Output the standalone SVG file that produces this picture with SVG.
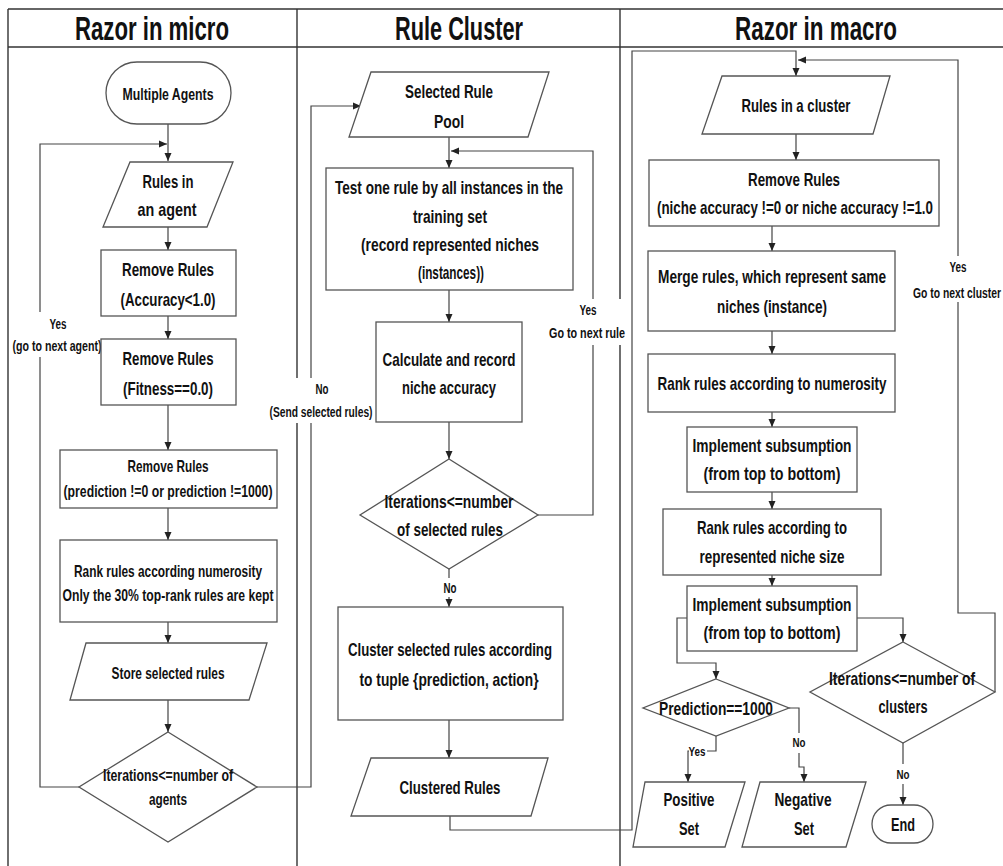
<svg xmlns="http://www.w3.org/2000/svg" width="1003" height="866" viewBox="0 0 1003 866">
  <style>
    .frame { fill: none; stroke: #333; stroke-width: 1.4; }
    .n { fill: #fff; stroke: #555; stroke-width: 1.3; }
    .c { fill: none; stroke: #444; stroke-width: 1.2; }
    .bg { fill: #fff; stroke: none; }
    text { font-family: "Liberation Sans Narrow", "Liberation Sans", Arial, sans-serif; font-weight: bold; fill: #111; text-anchor: middle; }
    .h { font-size: 33px; }
    .t { font-size: 19px; }
    .s { font-size: 16.5px; }
    .l { font-size: 14px; }
    .xs { font-size: 13px; }
  </style>
  <defs>
    <marker id="arrow" markerUnits="userSpaceOnUse" markerWidth="8" markerHeight="8" refX="8" refY="4" orient="auto">
      <path d="M0,0.5 L8,4 L0,7.5 z" fill="#222"/>
    </marker>
  </defs>

  <rect width="1003" height="866" fill="#fff"/>

  <!-- swimlane frame -->
  <g id="lanes">
    <line class="frame" x1="8" y1="9" x2="1003" y2="9"/>
    <line class="frame" x1="8" y1="47" x2="1003" y2="47"/>
    <line class="frame" x1="8" y1="9" x2="8" y2="866"/>
    <line class="frame" x1="297" y1="9" x2="297" y2="866"/>
    <line class="frame" x1="620" y1="9" x2="620" y2="866"/>
    <text class="h" x="152" y="40" textLength="154" lengthAdjust="spacingAndGlyphs">Razor in micro</text>
    <text class="h" x="459" y="40" textLength="128" lengthAdjust="spacingAndGlyphs">Rule Cluster</text>
    <text class="h" x="816" y="40" textLength="162" lengthAdjust="spacingAndGlyphs">Razor in macro</text>
  </g>

  <!-- connectors -->
  <g id="connectors">
    <!-- Razor in micro -->
    <polyline class="c" points="168,124 168,161" marker-end="url(#arrow)"/>
    <polyline class="c" points="79,787 40,787 40,144 167,144" marker-end="url(#arrow)"/>
    <polyline class="c" points="168,227 168,250" marker-end="url(#arrow)"/>
    <polyline class="c" points="168,316 168,339" marker-end="url(#arrow)"/>
    <polyline class="c" points="168,405 168,450" marker-end="url(#arrow)"/>
    <polyline class="c" points="168,508 168,540" marker-end="url(#arrow)"/>
    <polyline class="c" points="168,622 168,643" marker-end="url(#arrow)"/>
    <polyline class="c" points="168,700 168,732" marker-end="url(#arrow)"/>
    <polyline class="c" points="257,787 311,787 311,106 361,106" marker-end="url(#arrow)"/>
    <!-- Rule Cluster -->
    <polyline class="c" points="449,137 449,168" marker-end="url(#arrow)"/>
    <polyline class="c" points="538,515 593,515 593,151 451,151" marker-end="url(#arrow)"/>
    <polyline class="c" points="449,290 449,322" marker-end="url(#arrow)"/>
    <polyline class="c" points="449,422 449,459" marker-end="url(#arrow)"/>
    <polyline class="c" points="449,569 449,607" marker-end="url(#arrow)"/>
    <polyline class="c" points="449,720 449,758" marker-end="url(#arrow)"/>
    <polyline class="c" points="450,816 450,830 632,830 632,51 796,51 796,76" marker-end="url(#arrow)"/>
    <!-- Razor in macro -->
    <polyline class="c" points="796,134 796,160" marker-end="url(#arrow)"/>
    <polyline class="c" points="772,226 772,251" marker-end="url(#arrow)"/>
    <polyline class="c" points="772,331 772,354" marker-end="url(#arrow)"/>
    <polyline class="c" points="772,412 772,427" marker-end="url(#arrow)"/>
    <polyline class="c" points="772,492 772,509" marker-end="url(#arrow)"/>
    <polyline class="c" points="772,575 772,586" marker-end="url(#arrow)"/>
    <polyline class="c" points="687,618 677,618 677,663 716,663 716,679" marker-end="url(#arrow)"/>
    <polyline class="c" points="857,618 903,618 903,642" marker-end="url(#arrow)"/>
    <polyline class="c" points="716,736 716,751 688,751 688,782" marker-end="url(#arrow)"/>
    <polyline class="c" points="789,708 799,708 799,767 804,767 804,782" marker-end="url(#arrow)"/>
    <polyline class="c" points="903,743 903,805" marker-end="url(#arrow)"/>
    <polyline class="c" points="995,692 995,613 958,613 958,60 798,60" marker-end="url(#arrow)"/>
  </g>

  <!-- connector labels -->
  <g id="labels">
    <rect class="bg" x="11" y="312" width="92" height="45"/>
    <text class="l" x="58" y="329" textLength="17" lengthAdjust="spacingAndGlyphs">Yes</text>
    <text class="l" x="57" y="351" textLength="89" lengthAdjust="spacingAndGlyphs">(go to next agent)</text>

    <rect class="bg" x="268" y="378" width="106" height="45"/>
    <text class="l" x="322" y="394" textLength="13" lengthAdjust="spacingAndGlyphs">No</text>
    <text class="l" x="321" y="417" textLength="103" lengthAdjust="spacingAndGlyphs">(Send selected rules)</text>

    <rect class="bg" x="548" y="299" width="79" height="46"/>
    <text class="l" x="588" y="315" textLength="17" lengthAdjust="spacingAndGlyphs">Yes</text>
    <text class="l" x="587" y="338" textLength="76" lengthAdjust="spacingAndGlyphs">Go to next rule</text>

    <rect class="bg" x="441" y="578" width="18" height="19"/>
    <text class="l" x="450" y="593" textLength="13" lengthAdjust="spacingAndGlyphs">No</text>

    <rect class="bg" x="912" y="256" width="91" height="46"/>
    <text class="l" x="958" y="272" textLength="17" lengthAdjust="spacingAndGlyphs">Yes</text>
    <text class="l" x="957" y="298" textLength="88" lengthAdjust="spacingAndGlyphs">Go to next cluster</text>

    <rect class="bg" x="689" y="744" width="18" height="15"/>
    <text class="xs" x="697" y="756" textLength="17" lengthAdjust="spacingAndGlyphs">Yes</text>

    <rect class="bg" x="792" y="733" width="15" height="20"/>
    <text class="xs" x="799" y="747" textLength="13" lengthAdjust="spacingAndGlyphs">No</text>

    <rect class="bg" x="895" y="764" width="16" height="20"/>
    <text class="xs" x="903" y="779" textLength="13" lengthAdjust="spacingAndGlyphs">No</text>
  </g>

  <!-- Razor in micro nodes -->
  <g id="multiple-agents">
    <rect class="n" x="106" y="62" width="125" height="62" rx="31"/>
    <text class="s" x="168" y="100" textLength="91" lengthAdjust="spacingAndGlyphs">Multiple Agents</text>
  </g>
  <g id="rules-in-agent">
    <polygon class="n" points="130,162 233,162 207,227 103,227"/>
    <text class="t" x="168" y="188" textLength="51" lengthAdjust="spacingAndGlyphs">Rules in</text>
    <text class="t" x="167" y="216" textLength="59" lengthAdjust="spacingAndGlyphs">an agent</text>
  </g>
  <g id="remove-accuracy">
    <rect class="n" x="101" y="250" width="135" height="66"/>
    <text class="t" x="168" y="276" textLength="92" lengthAdjust="spacingAndGlyphs">Remove Rules</text>
    <text class="t" x="168" y="306" textLength="95" lengthAdjust="spacingAndGlyphs">(Accuracy&lt;1.0)</text>
  </g>
  <g id="remove-fitness">
    <rect class="n" x="101" y="339" width="135" height="66"/>
    <text class="t" x="168" y="365" textLength="91" lengthAdjust="spacingAndGlyphs">Remove Rules</text>
    <text class="t" x="168" y="395" textLength="90" lengthAdjust="spacingAndGlyphs">(Fitness==0.0)</text>
  </g>
  <g id="remove-prediction">
    <rect class="n" x="60" y="450" width="217" height="58"/>
    <text class="s" x="168" y="472" textLength="81" lengthAdjust="spacingAndGlyphs">Remove Rules</text>
    <text class="s" x="168" y="497" textLength="209" lengthAdjust="spacingAndGlyphs">(prediction !=0 or prediction !=1000)</text>
  </g>
  <g id="rank-numerosity-micro">
    <rect class="n" x="60" y="540" width="217" height="82"/>
    <text class="s" x="168" y="577" textLength="188" lengthAdjust="spacingAndGlyphs">Rank rules according numerosity</text>
    <text class="s" x="168" y="601" textLength="211" lengthAdjust="spacingAndGlyphs">Only the 30% top-rank rules are kept</text>
  </g>
  <g id="store-selected">
    <polygon class="n" points="86,643 267,643 249,700 70,700"/>
    <text class="s" x="168" y="679" textLength="113" lengthAdjust="spacingAndGlyphs">Store selected rules</text>
  </g>
  <g id="agents-decision">
    <polygon class="n" points="168,732 257,787 168,842 79,787"/>
    <text class="s" x="168" y="781" textLength="130" lengthAdjust="spacingAndGlyphs">Iterations&lt;=number of</text>
    <text class="s" x="168" y="805" textLength="38" lengthAdjust="spacingAndGlyphs">agents</text>
  </g>

  <!-- Rule Cluster nodes -->
  <g id="selected-pool">
    <polygon class="n" points="371,72 549,72 528,137 349,137"/>
    <text class="t" x="449" y="98" textLength="88" lengthAdjust="spacingAndGlyphs">Selected Rule</text>
    <text class="t" x="449" y="128" textLength="30" lengthAdjust="spacingAndGlyphs">Pool</text>
  </g>
  <g id="test-rule">
    <rect class="n" x="326" y="168" width="247" height="122"/>
    <text class="t" x="449" y="194" textLength="228" lengthAdjust="spacingAndGlyphs">Test one rule by all instances in the</text>
    <text class="t" x="450" y="223" textLength="74" lengthAdjust="spacingAndGlyphs">training set</text>
    <text class="t" x="450" y="251" textLength="178" lengthAdjust="spacingAndGlyphs">(record represented  niches</text>
    <text class="t" x="451" y="279" textLength="66" lengthAdjust="spacingAndGlyphs">(instances))</text>
  </g>
  <g id="niche-accuracy">
    <rect class="n" x="376" y="322" width="146" height="100"/>
    <text class="t" x="449" y="366" textLength="133" lengthAdjust="spacingAndGlyphs">Calculate and record</text>
    <text class="t" x="449" y="394" textLength="94" lengthAdjust="spacingAndGlyphs">niche accuracy</text>
  </g>
  <g id="rules-decision">
    <polygon class="n" points="449,459 538,515 449,569 360,515"/>
    <text class="t" x="449" y="508" textLength="129" lengthAdjust="spacingAndGlyphs">Iterations&lt;=number</text>
    <text class="t" x="450" y="536" textLength="106" lengthAdjust="spacingAndGlyphs">of selected rules</text>
  </g>
  <g id="cluster-rules">
    <rect class="n" x="338" y="607" width="225" height="113"/>
    <text class="t" x="450" y="656" textLength="204" lengthAdjust="spacingAndGlyphs">Cluster selected rules according</text>
    <text class="t" x="449" y="686" textLength="179" lengthAdjust="spacingAndGlyphs">to tuple {prediction, action}</text>
  </g>
  <g id="clustered-rules">
    <polygon class="n" points="371,758 548,758 531,816 351,816"/>
    <text class="t" x="450" y="794" textLength="101" lengthAdjust="spacingAndGlyphs">Clustered Rules</text>
  </g>

  <!-- Razor in macro nodes -->
  <g id="rules-in-cluster">
    <polygon class="n" points="722,76 890,76 873,134 702,134"/>
    <text class="t" x="796" y="112" textLength="109" lengthAdjust="spacingAndGlyphs">Rules in a cluster</text>
  </g>
  <g id="remove-niche">
    <rect class="n" x="649" y="160" width="290" height="66"/>
    <text class="t" x="794" y="186" textLength="92" lengthAdjust="spacingAndGlyphs">Remove Rules</text>
    <text class="t" x="795" y="214" textLength="276" lengthAdjust="spacingAndGlyphs">(niche accuracy !=0 or niche accuracy !=1.0</text>
  </g>
  <g id="merge-rules">
    <rect class="n" x="648" y="251" width="247" height="80"/>
    <text class="t" x="772" y="283" textLength="228" lengthAdjust="spacingAndGlyphs">Merge rules, which represent same</text>
    <text class="t" x="772" y="313" textLength="110" lengthAdjust="spacingAndGlyphs">niches (instance)</text>
  </g>
  <g id="rank-numerosity-macro">
    <rect class="n" x="648" y="354" width="247" height="58"/>
    <text class="t" x="772" y="390" textLength="229" lengthAdjust="spacingAndGlyphs">Rank rules according to numerosity</text>
  </g>
  <g id="subsumption-1">
    <rect class="n" x="687" y="427" width="170" height="65"/>
    <text class="t" x="772" y="452" textLength="159" lengthAdjust="spacingAndGlyphs">Implement subsumption</text>
    <text class="t" x="772" y="480" textLength="137" lengthAdjust="spacingAndGlyphs">(from top to bottom)</text>
  </g>
  <g id="rank-niche-size">
    <rect class="n" x="663" y="509" width="218" height="66"/>
    <text class="t" x="772" y="534" textLength="150" lengthAdjust="spacingAndGlyphs">Rank rules according to</text>
    <text class="t" x="772" y="563" textLength="145" lengthAdjust="spacingAndGlyphs">represented niche size</text>
  </g>
  <g id="subsumption-2">
    <rect class="n" x="687" y="586" width="170" height="65"/>
    <text class="t" x="772" y="611" textLength="159" lengthAdjust="spacingAndGlyphs">Implement subsumption</text>
    <text class="t" x="772" y="639" textLength="137" lengthAdjust="spacingAndGlyphs">(from top to bottom)</text>
  </g>
  <g id="prediction-decision">
    <polygon class="n" points="716,679 789,708 716,736 643,708"/>
    <text class="t" x="716" y="715" textLength="114" lengthAdjust="spacingAndGlyphs">Prediction==1000</text>
  </g>
  <g id="positive-set">
    <polygon class="n" points="645,782 745,782 725,847 633,847"/>
    <text class="t" x="689" y="806" textLength="51" lengthAdjust="spacingAndGlyphs">Positive</text>
    <text class="t" x="689" y="835" textLength="20" lengthAdjust="spacingAndGlyphs">Set</text>
  </g>
  <g id="negative-set">
    <polygon class="n" points="760,782 866,782 846,847 742,847"/>
    <text class="t" x="803" y="806" textLength="57" lengthAdjust="spacingAndGlyphs">Negative</text>
    <text class="t" x="804" y="835" textLength="20" lengthAdjust="spacingAndGlyphs">Set</text>
  </g>
  <g id="clusters-decision">
    <polygon class="n" points="903,642 995,692 903,743 810,692"/>
    <text class="t" x="902" y="685" textLength="146" lengthAdjust="spacingAndGlyphs">Iterations&lt;=number of</text>
    <text class="t" x="903" y="713" textLength="49" lengthAdjust="spacingAndGlyphs">clusters</text>
  </g>
  <g id="end">
    <rect class="n" x="872" y="805" width="61" height="38" rx="19"/>
    <text class="t" x="903" y="831" textLength="24" lengthAdjust="spacingAndGlyphs">End</text>
  </g>
</svg>
